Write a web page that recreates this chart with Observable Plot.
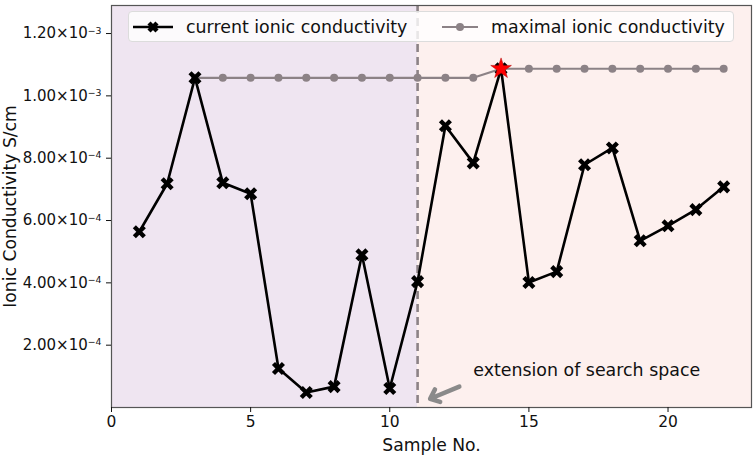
<!DOCTYPE html>
<html>
<head>
<meta charset="utf-8">
<script src="https://cdn.jsdelivr.net/npm/d3@7"></script>
<script src="https://cdn.jsdelivr.net/npm/@observablehq/plot@0.6"></script>
<style>
  body { margin: 0; background: #fff; font-family: "DejaVu Sans", sans-serif; }
  #wrap { position: relative; width: 754px; height: 455px; }
  #legend { position: absolute; left: 128px; top: 11px; width: 606px; height: 31px;
    background: rgba(255,255,255,0.8); border: 1px solid #dcdcdc; border-radius: 4px; box-sizing: border-box; }
  #legend .item { position: absolute; top: 0; height: 29px; display: flex; align-items: center; font-size: 17.4px; color: #111; white-space: nowrap; }
  #legend svg { margin-right: 13px; }
</style>
</head>
<body>
<div id="wrap"></div>
<script>
// ---- data ----
const samples = [1,2,3,4,5,6,7,8,9,10,11,12,13,14,15,16,17,18,19,20,21,22];
const currentVals = [0.564e-3,0.718e-3,1.058e-3,0.721e-3,0.686e-3,0.125e-3,0.048e-3,0.067e-3,0.490e-3,0.061e-3,0.404e-3,0.904e-3,0.785e-3,1.087e-3,0.401e-3,0.436e-3,0.779e-3,0.833e-3,0.535e-3,0.583e-3,0.635e-3,0.708e-3];
const maxSamples = [3,4,5,6,7,8,9,10,11,12,13,14,15,16,17,18,19,20,21,22];
const maxVals = [1.058e-3,1.058e-3,1.058e-3,1.058e-3,1.058e-3,1.058e-3,1.058e-3,1.058e-3,1.058e-3,1.058e-3,1.058e-3,1.087e-3,1.087e-3,1.087e-3,1.087e-3,1.087e-3,1.087e-3,1.087e-3,1.087e-3,1.087e-3];
const bestSample = 14;
const bestVal = 1.087e-3;
const extensionAt = 11;
const xTicks = [0,5,10,15,20];
const yTicks = [2e-4,4e-4,6e-4,8e-4,1e-3,1.2e-3];
const xDomain = [0, 23];
const yDomain = [0, 1.29e-3];
const regions = [
  {x1: 0, x2: 11, fill: "#efe5f1"},
  {x1: 11, x2: 23, fill: "#fdf0ee"}
];
const arrowData = [{x1: 12.5, y1: 0.067e-3, x2: 11.45, y2: 0.028e-3}];
const annot = [{x: 13.0, y: 0.118e-3, text: "extension of search space"}];

const current = samples.map((s, i) => ({x: s, y: currentVals[i]}));
const maximal = maxSamples.map((s, i) => ({x: s, y: maxVals[i]}));

const gray = "#8c8286";

function fmtY(d) {
  const e = Math.floor(Math.log10(d) + 1e-9);
  const m = d / Math.pow(10, e);
  return m.toFixed(2) + "×10|" + e;
}

const chart = Plot.plot({
  width: 754,
  height: 455,
  marginLeft: 111,
  marginRight: 3,
  marginTop: 5,
  marginBottom: 48,
  style: {fontFamily: "DejaVu Sans, sans-serif", fontSize: "15.5px", color: "#111", background: "transparent"},
  x: {domain: xDomain},
  y: {domain: yDomain},
  marks: [
    Plot.rectY(regions, {x1: "x1", x2: "x2", y1: yDomain[0], y2: yDomain[1], fill: "fill"}),
    Plot.ruleX([extensionAt], {stroke: gray, strokeWidth: 2.6, strokeDasharray: "8,5"}),
    Plot.line(maximal, {x: "x", y: "y", stroke: gray, strokeWidth: 2.2}),
    Plot.dot(maximal, {x: "x", y: "y", r: 4, fill: gray, stroke: "none"}),
    Plot.line(current, {x: "x", y: "y", stroke: "#000", strokeWidth: 2.6}),
    Plot.dot(current, {x: "x", y: "y", symbol: "times", r: 4.6, stroke: "#000", strokeWidth: 4.4}),
    Plot.dot([{x: bestSample, y: bestVal}], {x: "x", y: "y", symbol: "star", r: 6.5, fill: "#ff0000", stroke: "#b00000", strokeWidth: 0.5}),
    Plot.arrow(arrowData, {x1: "x1", y1: "y1", x2: "x2", y2: "y2", stroke: "#8a8a8a", strokeWidth: 4.5, headLength: 10, headAngle: 80}),
    Plot.text(annot, {x: "x", y: "y", text: "text", textAnchor: "start", fontSize: 17.4, fill: "#111"}),
    Plot.frame({stroke: "#555", strokeWidth: 1.2}),
    Plot.axisX({ticks: xTicks, tickSize: 5, tickPadding: 3, fontSize: 15.5, label: "Sample No.", labelAnchor: "center", labelArrow: "none", labelOffset: 43}),
    Plot.axisY({ticks: yTicks, tickFormat: fmtY, tickSize: 5, tickPadding: 5, fontSize: 15, label: "Ionic Conductivity S/cm", labelAnchor: "center", labelArrow: "none", labelOffset: 108})
  ]
});

// mathtext-like exponent
d3.select(chart).selectAll("g[aria-label='y-axis tick label'] text").each(function() {
  const t = d3.select(this);
  const parts = t.text().split("|");
  if (parts.length === 2) {
    t.text(parts[0]);
    t.append("tspan").attr("dy", "-0.5em").attr("font-size", "0.62em").text("−" + Math.abs(+parts[1]));
  }
});
d3.select(chart).selectAll("g[aria-label='x-axis label'] text, g[aria-label='y-axis label'] text").attr("font-size", 17.2);

const wrap = document.getElementById("wrap");
wrap.appendChild(chart);

const legend = document.createElement("div");
legend.id = "legend";
legend.innerHTML = `
  <div class="item" style="left:4px">
    <svg width="40" height="14"><line x1="0" y1="7" x2="40" y2="7" stroke="#000" stroke-width="2.6"/>
      <path d="M16,3 L24,11 M24,3 L16,11" stroke="#000" stroke-width="4.4"/></svg>
    current ionic conductivity</div>
  <div class="item" style="left:313px">
    <svg width="36" height="14"><line x1="0" y1="7" x2="36" y2="7" stroke="${gray}" stroke-width="2.2"/>
      <circle cx="18" cy="7" r="4" fill="${gray}"/></svg>
    maximal ionic conductivity</div>`;
wrap.appendChild(legend);
</script>
</body>
</html>
